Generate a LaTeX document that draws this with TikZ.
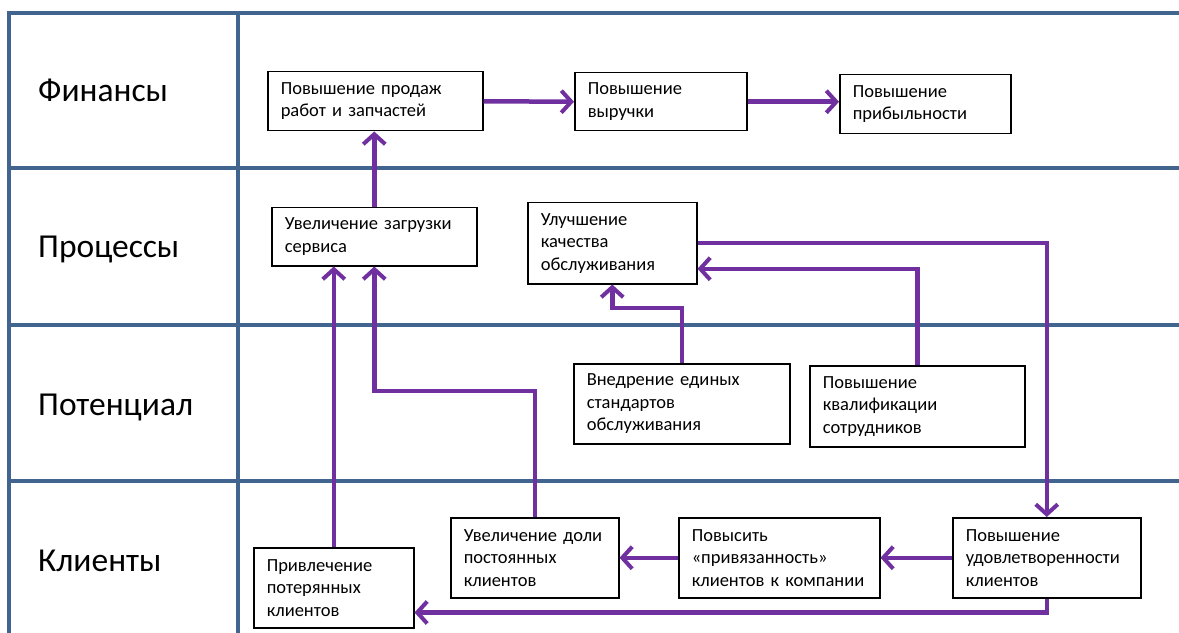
\documentclass[tikz,border=0pt]{standalone}
\usepackage{fontspec}
\setmainfont{Carlito}
\usetikzlibrary{arrows.meta,calc}
\definecolor{gridblue}{HTML}{41658F}
\definecolor{arrpurple}{HTML}{7030A0}
\tikzset{
  gridline/.style={draw=gridblue, line width=3.5bp},
  lanelabel/.style={anchor=base west, font=\fontsize{33.5bp}{40bp}\selectfont, inner sep=0pt},
  box/.style={draw=black, line width=1.5bp, fill=white, anchor=north west, align=left,
    inner xsep=13bp, inner ysep=2bp, font=\fontsize{18.5bp}{22.5bp}\selectfont},
  arr/.style={draw=arrpurple, line width=4.5bp, -{Straight Barb[length=10bp,width=22bp,line width=4bp]}},
}
\begin{document}
\begin{tikzpicture}[x=1bp,y=-1bp]
\useasboundingbox (0,0) rectangle (1179,633);
% grid
\draw[gridline] (9,633) -- (9,13) -- (1179,13);
\draw[gridline] (238,13) -- (238,633);
\draw[gridline] (9,168) -- (1179,168);
\draw[gridline] (9,325) -- (1179,325);
\draw[gridline] (9,481) -- (1179,481);
% lane labels
\node[lanelabel] (l1) at (38,102) {Финансы};
\node[lanelabel] (l2) at (38,258) {Процессы};
\node[lanelabel] (l3) at (38,415) {Потенциал};
\node[lanelabel] (l4) at (38,571) {Клиенты};
% boxes
\node[box, minimum width=215bp, minimum height=59bp, text width=189bp] (b1) at (267,71) {Повышение продаж\\работ и запчастей};
\node[box, minimum width=172bp, minimum height=58bp, text width=146bp] (b2) at (574,72) {Повышение\\выручки};
\node[box, minimum width=171bp, minimum height=59bp, text width=145bp] (b3) at (839,74) {Повышение\\прибыльности};
\node[box, minimum width=205bp, minimum height=58bp, text width=179bp] (b4) at (271,207) {Увеличение загрузки\\сервиса};
\node[box, minimum width=169bp, minimum height=81bp, text width=143bp] (b5) at (527,202) {Улучшение\\качества\\обслуживания};
\node[box, minimum width=216bp, minimum height=80bp, text width=190bp] (b6) at (573,363) {Внедрение единых\\стандартов\\обслуживания};
\node[box, minimum width=215bp, minimum height=81bp, text width=189bp] (b7) at (809,365) {Повышение\\квалификации\\сотрудников};
\node[box, minimum width=168bp, minimum height=80bp, text width=142bp] (b8) at (450,517) {Увеличение доли\\постоянных\\клиентов};
\node[box, minimum width=201bp, minimum height=80bp, text width=175bp] (b9) at (678,517) {Повысить\\«привязанность»\\клиентов к компании};
\node[box, minimum width=188bp, minimum height=80bp, text width=162bp] (b10) at (952,517) {Повышение\\удовлетворенности\\клиентов};
\node[box, minimum width=160bp, minimum height=80bp, text width=134bp] (b11) at (253,547) {Привлечение\\потерянных\\клиентов};
% connectors
\draw[arr] (b1.east) -- (b2.west);
\draw[arr] (b2.east) -- (b2.east -| b3.west);
\draw[arr] (b4.north) -- (b4.north |- b1.south);
\draw[arr] (b11.north) -- (b11.north |- b4.south);
\draw[arr] (b8.north) -- ++(0,-126) -| (b4.south);
\draw[arr] (b6.north) -- ++(0,-55) -| (b5.south);
\draw[arr] (b7.north) |- ($(b5.east)+(0,25.5)$);
\draw[arr] (b5.east) -| (b10.north);
\draw[arr] (b10.west) -- (b9.east);
\draw[arr] (b9.west) -- (b8.east);
\draw[arr] (b10.south) |- ($(b11.south east)+(0,-16)$);
\end{tikzpicture}
\end{document}
